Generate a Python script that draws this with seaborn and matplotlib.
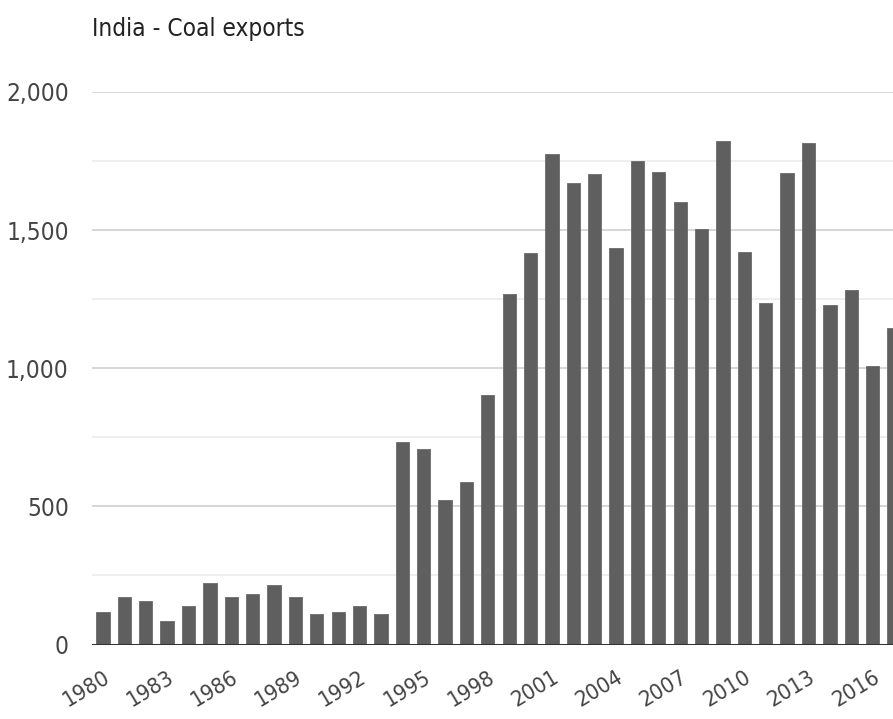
import matplotlib
matplotlib.use("Agg")
import matplotlib.pyplot as plt
from matplotlib import font_manager
import seaborn as sns
import pandas as pd

years = [str(y) for y in range(1980, 2018)]
exports = [117, 173, 157, 84, 140, 222, 173, 182, 214, 172,
           109, 117, 140, 109, 734, 709, 523, 587, 904, 1270,
           1416, 1774, 1669, 1702, 1434, 1750, 1709, 1603, 1505, 1822,
           1422, 1235, 1708, 1814, 1228, 1283, 1007, 1145]
tick_years = years[::3]
y_ticks = [0, 500, 1000, 1500, 2000]
y_tick_labels = ["0", "500", "1,000", "1,500", "2,000"]
title = "India - Coal exports"

sns.set_theme(style="white")

cond = None
for f in font_manager.fontManager.ttflist:
    if ("Condensed" in f.fname or "Narrow" in f.fname) and f.style == "normal" and f.weight in (400, "normal"):
        cond = f
        break
if cond is not None:
    family = [cond.name, 'Liberation Sans', 'DejaVu Sans']
    stretch = cond.stretch
else:
    family = ['Liberation Sans', 'DejaVu Sans']
    stretch = 'normal'
plt.rcParams['font.family'] = family
plt.rcParams['font.stretch'] = stretch

df = pd.DataFrame({"year": years, "exports": exports})

fig = plt.figure(figsize=(8.93, 7.19), dpi=100)
ax = fig.add_axes([92.3 / 893, 74.5 / 719, 812.4 / 893, 552.5 / 719])

sns.barplot(data=df, x="year", y="exports", color="#5f5f5f", saturation=1,
            width=0.62, ax=ax, zorder=3, edgecolor="#6a6a6a", linewidth=0.6)

ax.set_xlim(-0.5, 37.5)
ax.set_ylim(0, 2000)

for v in range(250, 2001, 250):
    major = v % 500 == 0
    ax.axhline(v, color="#cccccc" if major else "#e9e9e9", lw=1.1, zorder=1)
ax.axhline(0, color="#333333", lw=2.2, zorder=4)

ax.set_yticks(y_ticks)
ax.set_yticklabels(y_tick_labels, fontsize=17.5, color="#444444")
ax.tick_params(axis="y", length=0, pad=17)

pos = [years.index(y) for y in tick_years]
ax.set_xticks(pos)
ax.set_xticklabels(tick_years, fontsize=16, color="#444444", rotation=31,
                   ha="right", rotation_mode="anchor")
ax.tick_params(axis="x", length=0, pad=16)

ax.set_xlabel("")
ax.set_ylabel("")
for s in ax.spines.values():
    s.set_visible(False)

fig.text(92 / 893, 1 - 29 / 719, title, fontsize=17.5, color="#222222",
         ha="left", va="center")

fig.savefig("out.png", dpi=100)
